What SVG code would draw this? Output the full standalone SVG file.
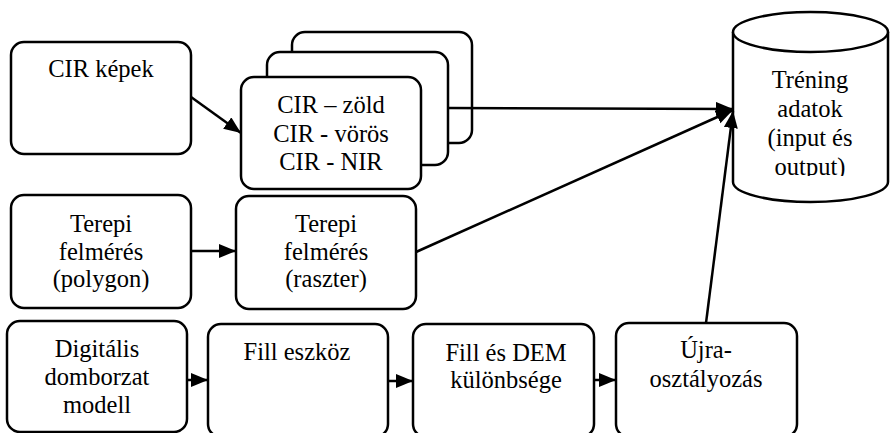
<svg xmlns="http://www.w3.org/2000/svg" width="890" height="433" viewBox="0 0 890 433">
<style>
.box{fill:#fff;stroke:#000;stroke-width:2.5}
.c{stroke:#000;stroke-width:2.5;fill:none}
.a{marker-end:url(#arr)}
</style>
<defs>
<marker id="arr" markerUnits="userSpaceOnUse" markerWidth="20" markerHeight="16" refX="17" refY="7" orient="auto">
<path d="M0,0 L17,7 L0,14 Z" fill="#000"/>
</marker>
<clipPath id="cylclip"><rect x="730" y="0" width="160" height="176"/></clipPath>
</defs>
<rect width="890" height="433" fill="#fff"/>
<g font-family="Liberation Serif, DejaVu Serif, serif" font-size="24.5" text-anchor="middle" fill="#000">
<g id="cir-kepek">
<rect class="box" x="11" y="42" width="180" height="112" rx="13"/>
<text x="101" y="77">CIR képek</text>
</g>
<g id="cir-bands">
<rect class="box" x="292" y="32" width="180" height="111" rx="13"/>
<rect class="box" x="267" y="52" width="181" height="113" rx="13"/>
<rect class="box" x="241" y="77" width="180" height="112" rx="13"/>
<text x="331" y="113">CIR – zöld</text>
<text x="331" y="142">CIR - vörös</text>
<text x="331" y="170">CIR - NIR</text>
</g>
<g id="terepi-polygon">
<rect class="box" x="11" y="195" width="180" height="113" rx="13"/>
<text x="101" y="232">Terepi</text>
<text x="101" y="260">felmérés</text>
<text x="101" y="287">(polygon)</text>
</g>
<g id="terepi-raszter">
<rect class="box" x="236" y="196" width="180" height="113" rx="13"/>
<text x="326" y="232">Terepi</text>
<text x="326" y="260">felmérés</text>
<text x="326" y="287">(raszter)</text>
</g>
<g id="dem">
<rect class="box" x="7" y="321" width="180" height="111" rx="13"/>
<text x="97" y="357">Digitális</text>
<text x="97" y="385">domborzat</text>
<text x="97" y="413">modell</text>
</g>
<g id="fill-eszkoz">
<rect class="box" x="208" y="324" width="180" height="113" rx="13"/>
<text x="297" y="360">Fill eszköz</text>
</g>
<g id="fill-dem">
<rect class="box" x="413" y="324" width="181" height="113" rx="13"/>
<text x="506" y="361">Fill és DEM</text>
<text x="506" y="388">különbsége</text>
</g>
<g id="ujra">
<rect class="box" x="616" y="323" width="181" height="114" rx="13"/>
<text x="706" y="358">Újra-</text>
<text x="706" y="387">osztályozás</text>
</g>
<g id="trening">
<path class="box" d="M733,32 L733,182 A77.5,20 0 0 0 888,182 L888,32"/>
<ellipse class="box" cx="810.5" cy="32" rx="77.5" ry="20"/>
<g clip-path="url(#cylclip)">
<text x="810" y="88">Tréning</text>
<text x="810" y="117">adatok</text>
<text x="810" y="146">(input és</text>
<text x="810" y="175">output)</text>
</g>
</g>
</g>
<g id="connectors">
<line class="c a" x1="191" y1="97" x2="241" y2="133"/>
<line class="c a" x1="191" y1="251" x2="236" y2="251"/>
<line class="c a" x1="187" y1="380" x2="208" y2="380"/>
<line class="c a" x1="388" y1="381" x2="413" y2="381"/>
<line class="c a" x1="594" y1="380" x2="616" y2="380"/>
<line class="c a" x1="448" y1="108" x2="733" y2="109"/>
<line class="c a" x1="416" y1="252" x2="733" y2="110"/>
<line class="c a" x1="706" y1="323" x2="733" y2="111"/>
</g>
</svg>
